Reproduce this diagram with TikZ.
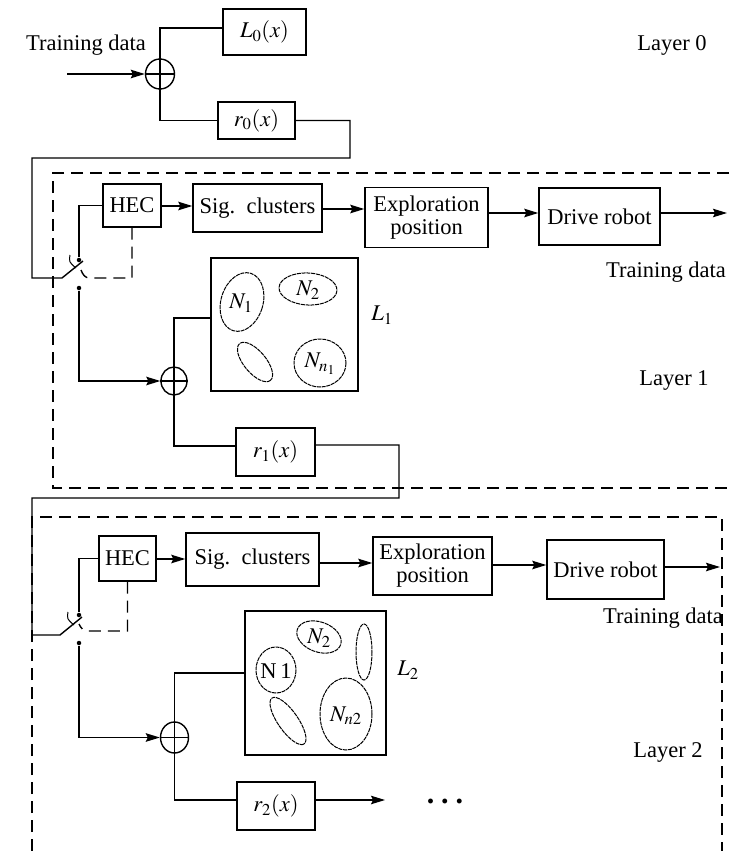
\documentclass[tikz,border=0pt]{standalone}
\usepackage{mathptmx}
\usepackage[no-math]{fontspec}
\setmainfont{Liberation Serif}
\usetikzlibrary{arrows.meta,shapes.geometric,calc}
\newcommand\dfs{\fontsize{22.5}{23}\selectfont}
\begin{document}
\begin{tikzpicture}[x=1pt,y=-1pt, line width=1.4pt,
  every node/.style={font=\dfs, inner sep=0pt},
  bx/.style 2 args={draw, rectangle, minimum width=#1pt, minimum height=#2pt, align=center},
  sm/.style 2 args={draw, ellipse, minimum width=#1pt, minimum height=#2pt},
  arr/.style={-{Stealth[length=14pt,width=8.5pt,inset=2pt]}},
  dsh/.style={dash pattern=on 12pt off 7pt},
  ell/.style={line width=1pt, dash pattern=on 4pt off 0.8pt},
  dot/.style={circle, fill, minimum size=4.5pt, inner sep=0pt}]
\path[use as bounding box] (0,0) rectangle (729,851);

% ---------------- Layer 0
\node (td0) at (86,45) {Training data};
\node[sm={29}{30}] (s0) at (160,74) {};
\coordinate (in0) at (67,74);
\node[bx={83}{46}] (L0) at (264.5,32) {$L_0(x)$};
\node[bx={77}{37}] (r0) at (256.5,120.5) {$r_0(x)$};
\node (ly0) at (672,45) {Layer 0};
\draw[arr] (in0) -- (s0.west);
\draw (s0.west) -- (s0.east);
\draw (L0.west|-0,28) -| (s0.north) -- (s0.south) |- (r0.west);

% ---------------- Layer 1
\draw[dsh] (729,173) -- (53,173) -- (53,488) -- (729,488);
\node[bx={58}{43}] (hec1) at (132,205.5) {HEC};
\node[bx={129}{48}] (sig1) at (257.5,208) {Sig.\ \ clusters};
\node[bx={123}{60}] (exp1) at (426.5,217.5) {Exploration\\position};
\node[bx={121}{57}] (drv1) at (599.5,216.5) {Drive robot};
\coordinate (o1) at (727,213);
\node (td1) at (666,272) {Training data};
\node (ly1) at (674,380) {Layer 1};

\draw[arr] (hec1.east|-0,206) -- (sig1.west|-0,206);
\draw[arr] (sig1.east|-0,209) -- (exp1.west|-0,209);
\draw[arr] (exp1.east|-0,213) -- (drv1.west|-0,213);
\draw[arr] (drv1.east|-0,213) -- (o1);

% switch 1
\coordinate (sw1) at (62,278);
\coordinate (sw1e) at (83,261);
\node[dot] (u1) at (79,260) {};
\node[dot] (d1) at (79,288) {};
\draw (r0.east) -- (350,120.5) -- (350,158) -- (32,158) -- (32,278) -- (sw1) -- (sw1e);
\draw[line width=1pt] (70,255) .. controls (69,262) .. (76,268);
\draw[dsh] (hec1.south) |- (90,278) .. controls (85,278) and (83,275) .. (81,270);
\draw (u1) |- (hec1.west);

% L1 memory
\node[sm={26}{28}] (s1) at (174,381) {};
\draw (s1.north) -- (s1.south) (s1.west) -- (s1.east);
\draw[arr] (d1) |- (s1.west);
\node[draw, minimum width=147pt, minimum height=133pt] (L1) at (284.5,324.5) {};
\node (L1t) at (382,315) {$L_1$};
\draw (s1.north) |- (L1.west|-0,318);
\draw[ell, rotate around={-17:(242,302)}] (242,302) ellipse [x radius=21, y radius=30];
\node at (241,303) {$N_1$};
\draw[ell, rotate around={-3:(308,289)}] (308,289) ellipse [x radius=29, y radius=16];
\node at (308,290) {$N_2$};
\draw[ell, rotate around={-50:(255,362)}] (255,362) ellipse [x radius=24, y radius=11];
\draw[ell] (320,363) ellipse [x radius=26, y radius=24];
\node at (320,364) {$N_{n_1}$};

\node[bx={79}{48}] (r1) at (275.5,452) {$r_1(x)$};
\draw (s1.south) |- (r1.west|-0,446);

% ---------------- Layer 2
\draw[dsh] (32,851) -- (32,517) -- (722,517) -- (722,851);
\node[bx={57}{45}] (hec2) at (127.5,558.5) {HEC};
\node[bx={133}{53}] (sig2) at (252.5,559.5) {Sig.\ \ clusters};
\node[bx={119}{58}] (exp2) at (432.5,566) {Exploration\\position};
\node[bx={117}{59}] (drv2) at (605.5,569.5) {Drive robot};
\coordinate (o2) at (720,567);
\node (td2) at (663,618) {Training data};
\node (ly2) at (668,752) {Layer 2};

\draw[arr] (hec2.east|-0,559) -- (sig2.west|-0,559);
\draw[arr] (sig2.east|-0,563) -- (exp2.west|-0,563);
\draw[arr] (exp2.east|-0,565) -- (drv2.west|-0,565);
\draw[arr] (drv2.east|-0,567) -- (o2);

% switch 2
\coordinate (sw2) at (60,635);
\coordinate (sw2e) at (82,617);
\node[dot] (u2) at (79,615) {};
\node[dot] (d2) at (79,643) {};
\draw (r1.east|-0,445) -- (399,445) -- (399,498) -- (32,498) -- (32,635) -- (sw2) -- (sw2e);
\draw[line width=1pt] (68,612) .. controls (67,619) .. (74,625);
\draw[dsh] (hec2.south) |- (88,631) .. controls (83,631) and (81,628) .. (79,624);
\draw (u2) |- (hec2.west);

% L2 memory
\node[sm={28}{31}] (s2) at (174.5,737.5) {};
\draw (s2.north) -- (s2.south) (s2.west) -- (s2.east);
\draw[arr] (d2) |- (s2.west);
\node[draw, minimum width=141pt, minimum height=144pt] (L2) at (315.5,683) {};
\node (L2t) at (408,670) {$L_2$};
\draw (s2.north) |- (L2.west|-0,673);
\draw[ell, rotate around={-20:(319,637)}] (319,637) ellipse [x radius=23, y radius=15];
\node at (319,638) {$N_2$};
\draw[ell] (364,652) ellipse [x radius=8, y radius=28];
\draw[ell] (276,670) ellipse [x radius=20, y radius=23];
\node at (276,671) {N\kern4pt1};
\draw[ell, rotate around={-55:(288,721)}] (288,721) ellipse [x radius=28, y radius=10];
\draw[ell] (346,714) ellipse [x radius=26, y radius=36];
\node at (346,716) {$N_{n2}$};

\node[bx={78}{48}] (r2) at (276,806) {$r_2(x)$};
\draw (s2.south) |- (r2.west|-0,800);
\coordinate (o3) at (385,800);
\draw[arr] (r2.east|-0,800) -- (o3);
\node[font=\fontsize{30}{30}\selectfont] (dots) at (445,801) {\textbf{.\kern7pt.\kern7pt.}};
\end{tikzpicture}
\end{document}
